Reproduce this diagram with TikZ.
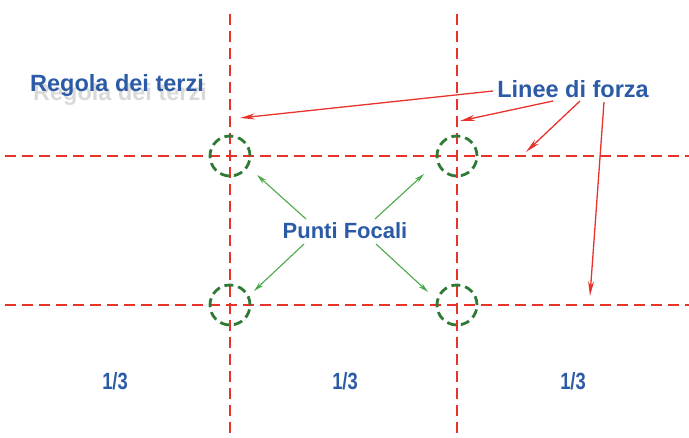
\documentclass[tikz,border=0pt]{standalone}
\usepackage{fontspec}
\setmainfont{Liberation Sans}
\usetikzlibrary{arrows.meta}
\definecolor{gridred}{HTML}{E8322C}
\definecolor{txtblue}{HTML}{2B5BA6}
\definecolor{circgreen}{HTML}{2E7A34}
\definecolor{arrgreen}{HTML}{4AA84A}
\tikzset{
  gridline/.style={gridred, line width=2.8pt, dash pattern=on 11pt off 6pt},
  focus/.style={circle, draw=circgreen, line width=2.8pt, dash pattern=on 9pt off 5pt, minimum size=40pt, inner sep=0pt},
  biglbl/.style={font=\bfseries\fontsize{23.5}{26}\selectfont, text=txtblue, inner sep=1pt},
  midlbl/.style={font=\bfseries\fontsize{22}{24}\selectfont, text=txtblue, inner sep=1pt},
  fraclbl/.style={font=\bfseries\fontsize{23.5}{26}\selectfont, text=txtblue, inner sep=1pt, xscale=0.78},
  shadowlbl/.style={font=\bfseries\fontsize{23.5}{26}\selectfont, text=gray, opacity=0.3, inner sep=1pt},
  redarrow/.style={gridred, line width=1.3pt, -{Stealth[length=15pt,width=6pt]}},
  greenarrow/.style={arrgreen, line width=1.1pt, -{Stealth[length=10pt,width=5pt]}},
}
\begin{document}
\begin{tikzpicture}[x=1pt,y=-1pt]
\useasboundingbox (0,0) rectangle (689,438);
% grid
\coordinate (v1t) at (230,14); \coordinate (v1b) at (230,438);
\coordinate (v2t) at (457,14); \coordinate (v2b) at (457,438);
\coordinate (h1l) at (5,156); \coordinate (h1r) at (689,156);
\coordinate (h2l) at (5,305); \coordinate (h2r) at (689,305);
\draw[gridline] (v1t) -- (v1b);
\draw[gridline] (v2t) -- (v2b);
\draw[gridline] (h1l) -- (h1r);
\draw[gridline] (h2l) -- (h2r);
% focal circles
\node[focus] (c1) at (230,156) {};
\node[focus] (c2) at (457,156) {};
\node[focus] (c3) at (230,305) {};
\node[focus] (c4) at (457,305) {};
% title with soft shadow
\node[shadowlbl] (regs) at (120,94) {Regola dei terzi};
\node[biglbl] (reg) at (117,85) {Regola dei terzi};
\node[biglbl] (lin) at (573,89) {Linee di forza};
\node[midlbl] (pf) at (345,231) {Punti Focali};
\node[fraclbl] (t1) at (115,381) {1/3};
\node[fraclbl] (t2) at (345,381) {1/3};
\node[fraclbl] (t3) at (573,381) {1/3};
% red arrows
\coordinate (r1s) at (493,91); \coordinate (r1e) at (240,118);
\coordinate (r2s) at (553,101); \coordinate (r2e) at (460,121);
\coordinate (r3s) at (580,101); \coordinate (r3e) at (526,152);
\coordinate (r4s) at (604,102); \coordinate (r4e) at (590,296);
\draw[redarrow] (r1s) -- (r1e);
\draw[redarrow] (r2s) -- (r2e);
\draw[redarrow] (r3s) -- (r3e);
\draw[redarrow] (r4s) -- (r4e);
% green arrows
\coordinate (g1s) at (306,219); \coordinate (g1e) at (257,175);
\coordinate (g2s) at (375,219); \coordinate (g2e) at (424,174);
\coordinate (g3s) at (304,244); \coordinate (g3e) at (254,291);
\coordinate (g4s) at (376,244); \coordinate (g4e) at (428,292);
\draw[greenarrow] (g1s) -- (g1e);
\draw[greenarrow] (g2s) -- (g2e);
\draw[greenarrow] (g3s) -- (g3e);
\draw[greenarrow] (g4s) -- (g4e);
\end{tikzpicture}
\end{document}
